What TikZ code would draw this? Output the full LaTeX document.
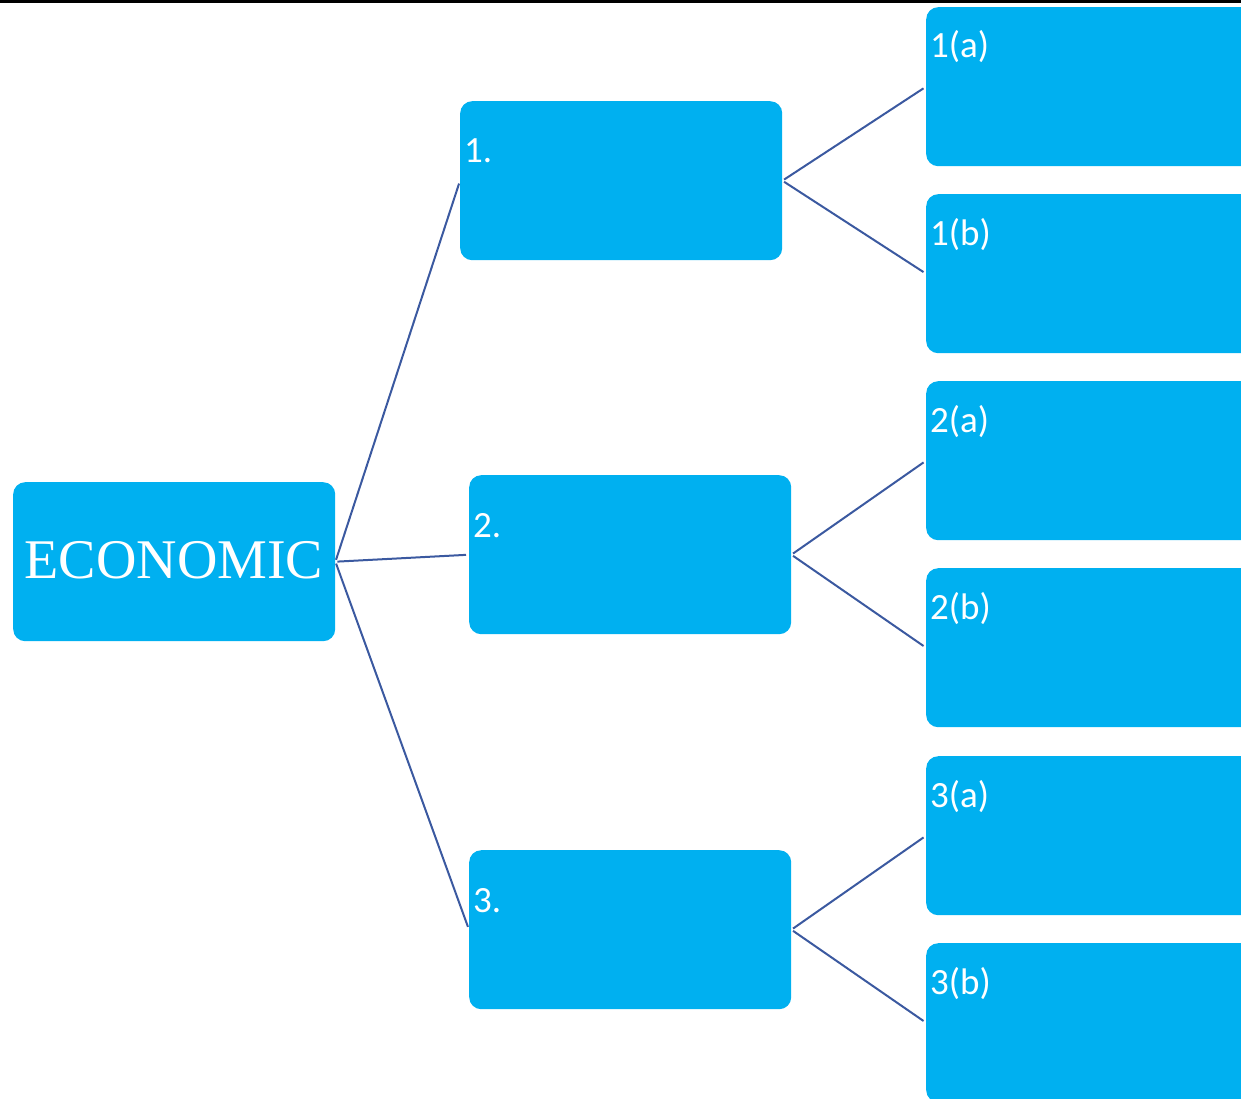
\documentclass[tikz,border=0pt]{standalone}
\usepackage{fontspec}
\setmainfont{Liberation Serif}
\newfontfamily\lblfont{Carlito}
\definecolor{boxblue}{HTML}{00B0F0}
\definecolor{linkblue}{RGB}{59,89,160}
\begin{document}
\begin{tikzpicture}[x=1pt,y=-1pt,
  box/.style={fill=boxblue, draw=none, rounded corners=12pt, anchor=north west, inner sep=0pt},
  lbl/.style={anchor=base west, inner sep=0pt, text=white, font=\lblfont\fontsize{37}{40}\selectfont},
  link/.style={draw=linkblue, line width=2pt, shorten <=2pt, shorten >=3pt}]
\useasboundingbox (0,0) rectangle (1241,1099);
\clip (0,0) rectangle (1241,1099);
\fill[black] (0,0) rectangle (1241,3);
% root
\node[box, minimum width=322pt, minimum height=159pt] (eco) at (13,482) {};
\node[text=white, font=\fontsize{56}{60}\selectfont, anchor=base, inner sep=0pt] (ecot) at (174,578) {ECONOMIC};
% level 1
\node[box, minimum width=322pt, minimum height=159pt] (b1) at (460,101) {};
\node[box, minimum width=322pt, minimum height=159pt] (b2) at (469,475) {};
\node[box, minimum width=322pt, minimum height=159pt] (b3) at (469,850) {};
\node[lbl] (t1) at (464,163) {1.};
\node[lbl] (t2) at (473,537) {2.};
\node[lbl] (t3) at (473,912) {3.};
% level 2
\node[box, minimum width=330pt, minimum height=159pt] (a1) at (926,7) {};
\node[box, minimum width=330pt, minimum height=159pt] (c1) at (926,194) {};
\node[box, minimum width=330pt, minimum height=159pt] (a2) at (926,381) {};
\node[box, minimum width=330pt, minimum height=159pt] (c2) at (926,568) {};
\node[box, minimum width=330pt, minimum height=159pt] (a3) at (926,756) {};
\node[box, minimum width=330pt, minimum height=159pt] (c3) at (926,943) {};
\node[lbl] (ta1) at (930,58) {1(a)};
\node[lbl] (tc1) at (930,245) {1(b)};
\node[lbl] (ta2) at (930,432) {2(a)};
\node[lbl] (tc2) at (930,619) {2(b)};
\node[lbl] (ta3) at (930,807) {3(a)};
\node[lbl] (tc3) at (930,994) {3(b)};
% connectors
\draw[link] (eco.east) -- (b1.west);
\draw[link] (eco.east) -- (b2.west);
\draw[link] (eco.east) -- (b3.west);
\draw[link] (b1.east) -- (a1.west);
\draw[link] (b1.east) -- (c1.west);
\draw[link] (b2.east) -- (a2.west);
\draw[link] (b2.east) -- (c2.west);
\draw[link] (b3.east) -- (a3.west);
\draw[link] (b3.east) -- (c3.west);
\end{tikzpicture}
\end{document}
